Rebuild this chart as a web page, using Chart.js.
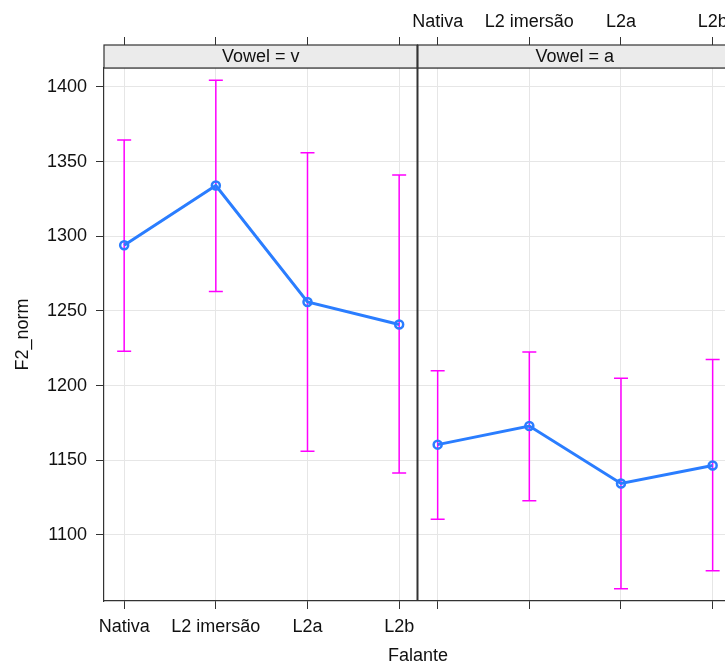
<!DOCTYPE html>
<html>
<head>
<meta charset="utf-8">
<script src="https://cdn.jsdelivr.net/npm/chart.js@4/dist/chart.umd.min.js"></script>
<style>
  html, body { margin: 0; padding: 0; overflow: hidden; background: #fff; }
  canvas { display: block; }
</style>
</head>
<body>
<canvas id="effectChart" width="760" height="664"></canvas>
<script>
// Falante effect on F2_norm, one panel per vowel
const categories = ["Nativa", "L2 imersão", "L2a", "L2b"];
const vowels = ["v", "a"];

const fitV = [1294, 1334, 1256, 1241];
const lowerV = [1223, 1263, 1156, 1141.5];
const upperV = [1364.5, 1404.5, 1356, 1341];

const fitA = [1160.5, 1173, 1134.5, 1146.5];
const lowerA = [1110.5, 1123, 1064, 1076];
const upperA = [1210, 1222.5, 1205, 1217.5];

const yTicks = [1100, 1150, 1200, 1250, 1300, 1350, 1400];

const panels = [
  { vowel: vowels[0], fit: fitV, lower: lowerV, upper: upperV },
  { vowel: vowels[1], fit: fitA, lower: lowerA, upper: upperA }
];

// layout of the two panels on one linear x axis
const panelOffset = 3.42;
const panelPad = 0.22;
const xMin = -panelPad;
const xMax = 6.631;
const xTicks = [];
panels.forEach((p, pi) => categories.forEach((c, i) => xTicks.push(i + pi * panelOffset)));

const lineColor = "#2a7dff";
const barColor = "#ff00ff";
const frameColor = "#333";
const gridColor = "#e6e6e6";
const stripTop = 45;

Chart.defaults.font.family = "'Liberation Sans', Arial, sans-serif";
Chart.defaults.font.size = 18;
Chart.defaults.color = "#111";

const errorBars = {
  id: "errorBars",
  beforeDatasetsDraw(chart) {
    const { ctx, scales: { x, y } } = chart;
    ctx.save();
    ctx.strokeStyle = barColor;
    ctx.lineWidth = 1.5;
    panels.forEach((p, pi) => {
      p.lower.forEach((lo, i) => {
        const px = x.getPixelForValue(i + pi * panelOffset);
        const yl = y.getPixelForValue(lo);
        const yu = y.getPixelForValue(p.upper[i]);
        ctx.beginPath();
        ctx.moveTo(px, yl); ctx.lineTo(px, yu);
        ctx.moveTo(px - 7, yl); ctx.lineTo(px + 7, yl);
        ctx.moveTo(px - 7, yu); ctx.lineTo(px + 7, yu);
        ctx.stroke();
      });
    });
    ctx.restore();
  }
};

const strips = {
  id: "strips",
  afterDraw(chart) {
    const { ctx, chartArea, scales: { x } } = chart;
    const divider = x.getPixelForValue(panelOffset - panelPad);
    const edges = [[chartArea.left, divider], [divider, chartArea.right]];
    ctx.save();
    edges.forEach(([l, r], pi) => {
      ctx.fillStyle = "#ebebeb";
      ctx.fillRect(l, stripTop, r - l, chartArea.top - stripTop);
      ctx.strokeStyle = frameColor;
      ctx.lineWidth = 1.2;
      ctx.strokeRect(l, stripTop, r - l, chartArea.top - stripTop);
      ctx.fillStyle = "#111";
      ctx.font = "18px 'Liberation Sans', Arial, sans-serif";
      ctx.textAlign = "center";
      ctx.textBaseline = "middle";
      ctx.fillText("Vowel = " + panels[pi].vowel, (l + r) / 2, (stripTop + chartArea.top) / 2 + 1);
    });
    ctx.lineWidth = 2;
    ctx.beginPath();
    ctx.moveTo(divider, stripTop);
    ctx.lineTo(divider, chartArea.bottom);
    ctx.stroke();
    ctx.restore();
  }
};

const setTicks = vals => scale => { scale.ticks = vals.map(v => ({ value: v })); };

new Chart(document.getElementById("effectChart"), {
  type: "line",
  data: {
    datasets: panels.map((p, pi) => ({
      label: "Vowel = " + p.vowel,
      data: p.fit.map((v, i) => ({ x: i + pi * panelOffset, y: v })),
      borderColor: lineColor,
      backgroundColor: "rgba(0,0,0,0)",
      borderWidth: 3,
      pointRadius: 4,
      pointBorderWidth: 2.5,
      pointBorderColor: lineColor,
      tension: 0
    }))
  },
  options: {
    responsive: false,
    animation: false,
    layout: { padding: { left: 0, top: 0, bottom: 0, right: 28 } },
    plugins: { legend: { display: false }, tooltip: { enabled: false } },
    scales: {
      x: {
        type: "linear",
        position: "bottom",
        min: xMin,
        max: xMax,
        afterBuildTicks: setTicks(xTicks),
        afterFit: s => { s.height = 63; },
        ticks: {
          autoSkip: false,
          maxRotation: 0,
          padding: 7,
          callback: (v, i) => (i < categories.length ? categories[i] : "")
        },
        grid: { color: gridColor, tickColor: frameColor, tickLength: 8 },
        border: { color: frameColor, width: 1.2 },
        title: { display: true, text: "Falante", padding: { top: 0, bottom: -3 } }
      },
      xTop: {
        type: "linear",
        position: "top",
        min: xMin,
        max: xMax,
        afterBuildTicks: setTicks(xTicks),
        afterFit: s => { s.height = 68; },
        ticks: {
          autoSkip: false,
          maxRotation: 0,
          padding: 4,
          callback: (v, i) => (i >= categories.length ? categories[i - categories.length] : "")
        },
        grid: { drawOnChartArea: false, tickColor: frameColor, tickLength: 31 },
        border: { color: frameColor, width: 1.2 }
      },
      y: {
        min: 1055.8,
        max: 1412.7,
        afterBuildTicks: setTicks(yTicks),
        afterFit: s => { s.width = 104; },
        ticks: { padding: 9, callback: v => String(v) },
        grid: { color: gridColor, tickColor: frameColor, tickLength: 8 },
        border: { color: frameColor, width: 1.2 },
        title: { display: true, text: "F2_norm", padding: 12 }
      }
    }
  },
  plugins: [errorBars, strips]
});
</script>
</body>
</html>
